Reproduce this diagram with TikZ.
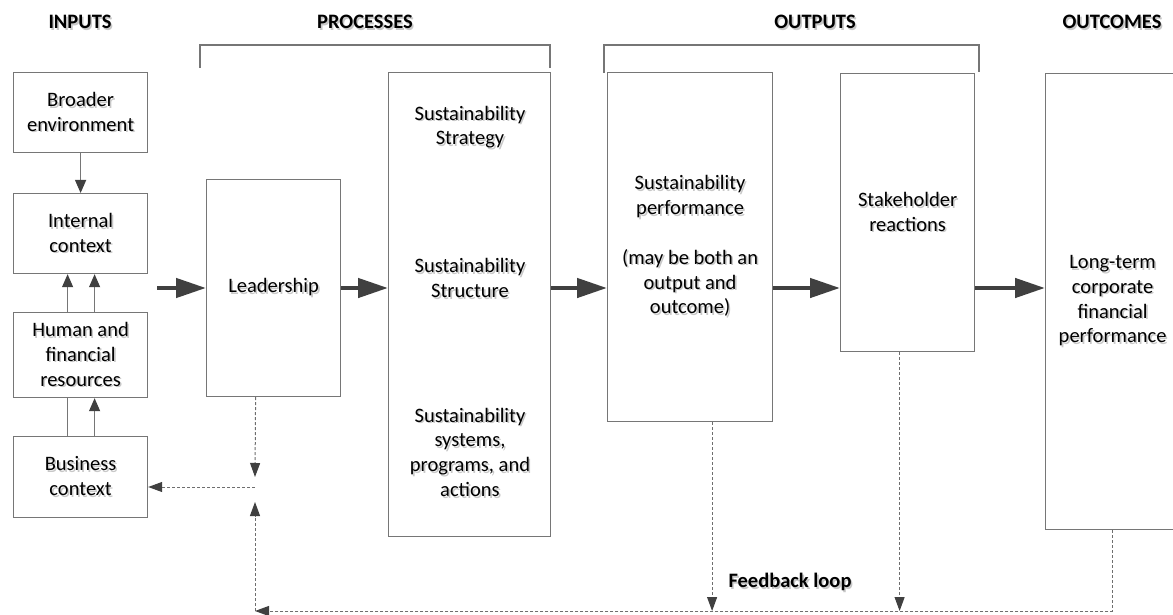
\documentclass[tikz,border=0pt]{standalone}
\usepackage{fontspec}
\setmainfont{Carlito}
\usetikzlibrary{arrows.meta}

\definecolor{boxline}{HTML}{767676}
\definecolor{arrowdark}{HTML}{404040}
\definecolor{dashline}{HTML}{6E6E6E}
\definecolor{shade}{HTML}{C8C8C8}

% text with a soft grey drop shadow
\newcommand\sh[1]{\makebox[0pt][l]{\kern1.6pt\raisebox{-1.6pt}{\textcolor{shade}{#1}}}#1}

\tikzset{
  boxnode/.style={draw=boxline, line width=1.2pt, inner sep=0pt, anchor=north west,
    align=center, font=\fontsize{20.5}{24.8}\selectfont},
  plaintext/.style={inner sep=0pt, align=center, font=\fontsize{20.5}{24.8}\selectfont},
  heading/.style={inner sep=0pt, font=\bfseries\fontsize{20.5}{24.8}\selectfont},
  bracketline/.style={draw=boxline, line width=1.2pt},
  bigarrow/.style={draw=arrowdark, line width=4.5pt, -{Triangle[length=30pt,width=19pt]}},
  smallarrow/.style={draw=boxline, line width=1.2pt, -{Triangle[length=13pt,width=11pt,color=arrowdark]}},
  plainlink/.style={draw=boxline, line width=1.2pt},
  dashlink/.style={draw=dashline, line width=1pt, dash pattern=on 3pt off 2pt},
  dasharrow/.style={dashlink, -{Triangle[length=14pt,width=10pt,color=arrowdark]}},
}

\begin{document}
\begin{tikzpicture}[x=1pt, y=-1pt]
\useasboundingbox (0,0) rectangle (1173,615);

% column headings
\node[heading] (hin)  at (80,23)   {\sh{INPUTS}};
\node[heading] (hpr)  at (365,23)  {\sh{PROCESSES}};
\node[heading] (hout) at (815,23)  {\sh{OUTPUTS}};
\node[heading] (hoc)  at (1112,23) {\sh{OUTCOMES}};

% brackets grouping the columns
\draw[bracketline] (200,68) -- (200,45) -- (550,45) -- (550,68);
\draw[bracketline] (604,73) -- (604,45) -- (979,45) -- (979,72);

% inputs
\node[boxnode, minimum width=134pt, minimum height=80pt] (be) at (13,72)
  {\sh{Broader}\\\sh{environment}};
\node[boxnode, minimum width=134pt, minimum height=80pt] (ic) at (13,193)
  {\sh{Internal}\\\sh{context}};
\node[boxnode, minimum width=134pt, minimum height=85pt] (hf) at (13,312)
  {\sh{Human and}\\\sh{financial}\\\sh{resources}};
\node[boxnode, minimum width=134pt, minimum height=81pt] (bc) at (13,436)
  {\sh{Business}\\\sh{context}};

% processes
\node[boxnode, minimum width=134pt, minimum height=217pt] (lead) at (206,179)
  {\sh{Leadership}};
\node[boxnode, minimum width=162pt, minimum height=464pt] (sus) at (388,72) {};
\node[plaintext] (s1) at (470,128) {\sh{Sustainability}\\\sh{Strategy}};
\node[plaintext] (s2) at (470,279) {\sh{Sustainability}\\\sh{Structure}};
\node[plaintext] (s3) at (470,453)
  {\sh{Sustainability}\\\sh{systems,}\\\sh{programs, and}\\\sh{actions}};

% outputs
\node[boxnode, minimum width=165pt, minimum height=349pt] (perf) at (607,72)
  {\sh{Sustainability}\\\sh{performance}\\[24.8pt]\sh{(may be both an}\\\sh{output and}\\\sh{outcome)}};
\node[boxnode, minimum width=134pt, minimum height=278pt] (stake) at (840,73)
  {\sh{Stakeholder}\\\sh{reactions}};

% outcomes
\node[boxnode, minimum width=134pt, minimum height=456pt] (lt) at (1045,73)
  {\sh{Long-term}\\\sh{corporate}\\\sh{financial}\\\sh{performance}};

% links between the input boxes
\draw[smallarrow] (be.south) -- (ic.north);
\draw[smallarrow] ([xshift=-13pt]hf.north) -- ([xshift=-13pt]ic.south);
\draw[smallarrow] ([xshift=14pt]hf.north) -- ([xshift=14pt]ic.south);
\draw[plainlink] ([xshift=-13pt]bc.north) -- ([xshift=-13pt]hf.south);
\draw[smallarrow] ([xshift=14pt]bc.north) -- ([xshift=14pt]hf.south);

% main flow
\coordinate (inp) at (157,288);
\draw[bigarrow] (inp) -- (lead.west |- inp);
\draw[bigarrow] (lead.east |- inp) -- (sus.west |- inp);
\draw[bigarrow] (sus.east |- inp) -- (perf.west |- inp);
\draw[bigarrow] (perf.east |- inp) -- (stake.west |- inp);
\draw[bigarrow] (stake.east |- inp) -- (lt.west |- inp);

% feedback loop
\coordinate (fbl) at (255,611);
\coordinate (jn) at (255,487);
\coordinate (ldtip) at (255,477);
\coordinate (uptip) at (255,502);
\draw[dasharrow] ([xshift=-18pt]lead.south) -- (ldtip);
\draw[dasharrow] (jn) -- (bc.east |- jn);
\draw[dasharrow] (fbl) -- (uptip);
\draw[dasharrow] (lt.south) -- (lt.south |- fbl) -- (fbl);
\draw[dasharrow] ([xshift=22pt]perf.south) -- ([xshift=22pt]perf.south |- fbl);
\draw[dasharrow] ([xshift=-8pt]stake.south) -- ([xshift=-8pt]stake.south |- fbl);
\node[heading] (fb) at (790,583) {\sh{Feedback loop}};
\end{tikzpicture}
\end{document}
